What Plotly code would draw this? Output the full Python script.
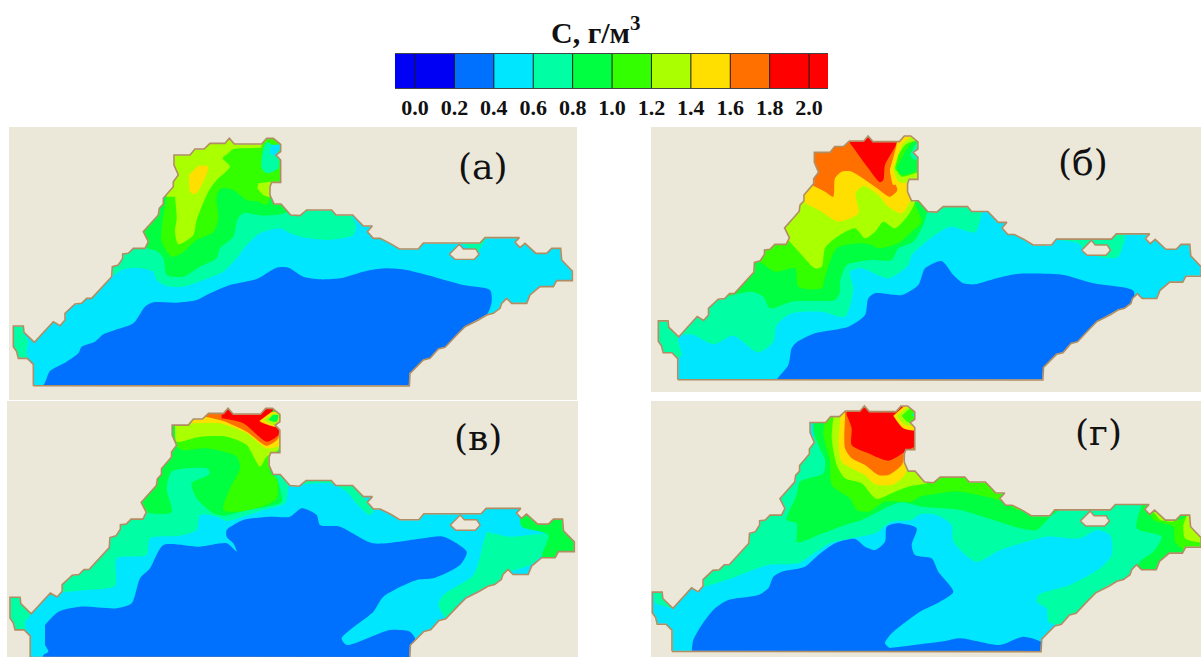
import plotly.graph_objects as go

# ---------- colour legend ----------
TICK_VALUES = [0.0, 0.2, 0.4, 0.6, 0.8, 1.0, 1.2, 1.4, 1.6, 1.8, 2.0]
TICK_LABELS = ["0.0", "0.2", "0.4", "0.6", "0.8", "1.0", "1.2", "1.4", "1.6", "1.8", "2.0"]
BAR_EDGES = [-0.1015, 0.0, 0.2, 0.4, 0.6, 0.8, 1.0, 1.2, 1.4, 1.6, 1.8, 2.0, 2.096]
BAR_COLORS = ["#0000f5", "#0000f5", "#0070ff", "#00e6ff", "#00ffa5", "#00ff40",
              "#33ff00", "#aaff00", "#ffdf00", "#ff7000", "#ff0000", "#ff0000"]
# colour of the class starting at each concentration
C02, C04, C06, C08, C10, C12, C14, C16, C18 = BAR_COLORS[2:11]

# ---------- coast outline, map units of panel (а) ----------
OUTLINE = [(100,782),(100,718),(82,700),(55,700),(50,680),(40,665),(40,603),(70,603),(72,622),(103,652),
 (160,590),(180,602),(195,585),(195,565),(225,537),(245,535),(260,520),(275,520),(335,455),(337,425),
 (355,420),(368,400),(368,387),(385,385),(400,370),(435,370),(445,350),(430,320),(475,270),(478,250),
 (490,237),(490,220),(520,185),(520,170),(535,150),(522,120),(522,90),(570,90),(585,72),(612,72),
 (630,55),(675,55),(688,40),(703,57),(785,57),(800,40),(820,40),(842,58),(842,80),(828,90),(842,105),
 (842,172),(815,172),(810,185),(810,210),(822,237),(843,237),(872,270),(900,272),(920,255),(995,255),
 (1008,270),(1058,270),(1090,303),(1117,303),(1102,320),(1120,340),(1140,340),(1170,355),(1198,372),
 (1255,372),(1270,354),(1440,354),(1455,338),(1558,338),(1545,352),(1560,368),(1575,355),(1608,385),
 (1640,385),(1655,370),(1682,370),(1685,405),(1717,438),(1717,467),(1670,467),(1660,485),(1620,485),
 (1590,510),(1580,535),(1535,535),(1520,520),(1505,535),(1500,550),(1480,565),(1460,570),(1435,585),
 (1415,595),(1395,605),(1370,630),(1335,667),(1315,672),(1290,700),(1270,705),(1230,745),(1228,783),
 (100,782)]
ISLAND = [(1348,388),(1378,358),(1390,372),(1427,372),(1437,388),(1423,403),(1365,403),(1348,388)]

# ---------- panel (а) ----------
A_BLUE = [(100,800),(100,782),(130,780),(150,738),(200,710),(235,685),(245,665),(285,650),(310,628),(345,615),
 (400,595),(435,545),(460,532),(530,533),(590,525),(630,505),(690,480),(770,462),(830,428),(865,428),
 (910,455),(960,463),(1020,460),(1090,440),(1155,430),(1220,435),(1310,458),(1390,480),(1470,495),
 (1475,530),(1460,570),(1300,700),(1228,800)]
A_TEAL = [(320,440),(330,455),(372,432),(420,430),(460,440),(470,465),(500,483),(550,485),(610,465),(670,440),
 (710,400),(740,360),(780,325),(840,310),(870,325),(910,337),(980,345),(1060,330),(1067,300),(1055,270),
 (1055,200),(320,200)]
A_TAB = [(30,590),(75,590),(72,625),(85,650),(80,675),(80,700),(40,710)]
A_TEAL2 = [(1380,350),(1440,350),(1460,335),(1445,365),(1430,385),(1410,370),(1380,355)]
A_G08 = [(420,330),(440,368),(470,378),(490,400),(500,450),(550,455),(600,425),(650,400),(660,370),(700,335),
 (712,285),(730,265),(790,272),(860,262),(900,200),(900,20),(400,20),(400,200)]
A_G10 = [(500,215),(485,310),(485,350),(515,395),(545,385),(590,345),(640,322),(655,280),(650,215),(665,190),
 (700,195),(740,225),(775,230),(800,240),(815,200),(850,150),(850,20),(500,20)]
A_G12 = [(525,215),(530,280),(525,320),(535,358),(580,330),(590,285),(625,200),(650,165),(690,125),(668,100),
 (685,85),(700,72),(790,65),(795,40),(500,20),(500,215)]
A_Y14 = [(567,150),(570,200),(585,208),(605,180),(625,125),(595,122)]
A_L2 = [(775,175),(825,172),(810,215),(790,210),(772,190)]
A_G08B = [(790,50),(770,100),(762,130),(790,160),(845,150),(845,50)]
A_T06B = [(800,50),(790,70),(785,130),(800,145),(835,130),(835,90),(820,60)]
A_C04B = [(815,60),(845,60),(825,92),(808,85)]

# ---------- panel (б) ----------
B_BLUE = [(395,780),(395,765),(430,720),(440,670),(455,652),(510,625),(610,605),(660,570),(670,520),(690,505),
 (770,510),(820,480),(840,430),(890,408),(925,450),(955,475),(990,478),(1055,460),(1115,447),(1255,450),
 (1345,475),(1465,497),(1465,530),(1300,700),(1210,780)]
B_TEAL = [(112,690),(100,635),(140,628),(205,658),(265,632),(340,682),(385,650),(395,600),(440,565),(530,560),
 (600,575),(625,490),(615,440),(650,430),(730,460),(790,420),(800,390),(850,345),(915,305),(990,322),
 (1010,265),(1010,200),(0,200),(0,700),(100,700)]
B_TEAL2 = [(1240,345),(1300,355),(1325,385),(1400,400),(1420,395),(1440,330),(1420,320),(1240,340)]
B_G08 = [(245,515),(320,500),(355,515),(375,550),(440,530),(520,528),(570,525),(585,500),(585,470),(605,420),
 (640,410),(680,405),(740,405),(760,370),(805,350),(835,300),(850,250),(860,220),(850,20),(200,20),(200,450)]
B_G10 = [(345,410),(390,440),(450,430),(460,485),(530,490),(540,455),(575,370),(640,355),(680,360),(700,370),
 (760,355),(800,320),(830,290),(810,230),(840,230),(840,20),(200,20),(300,410)]
B_G12 = [(425,340),(470,390),(510,430),(530,425),(540,370),(570,340),(630,310),(660,340),(690,320),(715,290),
 (750,310),(790,270),(810,230),(800,200),(800,20),(300,20),(400,340)]
B_Y14 = [(480,235),(530,260),(580,290),(640,265),(632,205),(655,183),(700,210),(730,245),(770,265),(800,215),
 (800,20),(480,20)]
B_O16 = [(500,180),(540,200),(565,215),(570,160),(590,140),(620,140),(690,185),(735,215),(757,195),(735,140),
 (755,60),(700,20),(500,20)]
B_R18 = [(615,55),(630,75),(670,130),(705,172),(715,165),(720,120),(755,55),(755,20),(610,20)]
B_H14 = [(735,135),(745,180),(765,170),(810,165),(830,50),(790,30),(770,50),(755,60)]
B_H12 = [(745,130),(760,170),(830,165),(830,50),(795,38),(770,60)]
B_H10 = [(750,130),(770,155),(810,145),(825,140),(830,50),(800,50),(780,60),(760,90)]
B_H08 = [(755,130),(770,150),(810,140),(825,130),(825,50),(805,50),(780,80)]
B_H06 = [(795,90),(810,105),(830,90),(828,50),(810,60)]

# ---------- panel (в) ----------
V_BLUE = [(135,690),(175,650),(240,635),(350,640),(395,625),(420,550),(450,520),(490,450),(600,455),(680,445),
 (710,470),(700,445),(680,425),(680,405),(730,375),(810,365),(870,365),(905,340),(950,360),(960,390),
 (1020,395),(1120,445),(1270,430),(1330,425),(1400,470),(1380,510),(1300,550),(1250,555),(1150,605),
 (1120,650),(1025,730),(1040,750),(1170,705),(1230,710),(1245,730),(1240,800),(130,800),(130,780),(145,770),(135,750)]
V_TEAL = [(160,600),(190,592),(260,585),(345,572),(350,490),(440,480),(450,430),(540,422),(590,405),(600,360),
 (650,365),(680,378),(720,368),(790,345),(855,325),(865,270),(860,200),(160,200)]
V_TAB = [(30,600),(60,600),(90,660),(75,680),(75,710),(20,710)]
V_TEAL2 = [(870,275),(910,258),(995,258),(1060,272),(1120,350),(1108,360),(1065,320),(1040,290),(990,265),(910,268)]
V_TEAL3 = [(1460,410),(1530,425),(1650,420),(1620,485),(1590,510),(1520,535),(1500,560),(1390,610),(1340,670),
 (1315,630),(1330,600),(1420,540),(1450,440)]
V_G08E = [(1560,370),(1565,395),(1645,420),(1625,490),(1740,490),(1740,350),(1560,350)]
V_G08 = [(420,320),(440,352),(515,352),(500,280),(515,230),(560,220),(625,222),(628,238),(575,265),(590,310),
 (640,355),(675,362),(740,345),(800,335),(845,320),(830,250),(815,232),(850,200),(850,20),(400,20)]
V_G10 = [(525,150),(545,165),(620,160),(710,185),(720,220),(690,280),(670,345),(720,350),(800,330),(830,310),
 (830,250),(810,235),(815,170),(820,120),(525,120)]
V_G12 = [(525,100),(530,140),(600,125),(680,125),(740,150),(780,215),(800,185),(835,165),(835,130),(700,70),(525,80)]
V_Y14 = [(570,85),(660,85),(740,115),(800,160),(840,150),(840,120),(700,55),(620,60),(570,80)]
V_O16 = [(615,65),(670,78),(740,110),(800,152),(835,130),(835,60),(640,50),(615,60)]
V_R18 = [(665,70),(730,85),(800,140),(835,120),(835,100),(780,80),(810,60),(820,40),(700,30),(665,60)]
V_H14 = [(778,78),(830,95),(845,55),(815,50)]
V_H12 = [(790,75),(825,90),(840,60),(820,55)]
V_H08 = [(805,75),(830,80),(835,60),(818,60)]

# ---------- panel (г) ----------
G_BLUE = [(140,770),(145,735),(170,690),(210,640),(250,615),(340,600),(370,580),(385,545),(410,530),(480,515),
 (520,480),(570,445),(630,432),(660,455),(690,465),(720,440),(725,395),(760,385),(815,400),(800,450),
 (810,480),(860,490),(880,530),(925,590),(885,620),(825,650),(740,715),(720,745),(735,762),(740,790),(140,790)]
G_BLUE2 = [(725,760),(900,738),(945,730),(1065,750),(1135,725),(1195,745),(1205,790),(725,790)]
G_TEAL = [(180,575),(260,550),(310,530),(370,510),(460,505),(500,480),(555,445),(620,430),(690,415),(740,380),
 (800,375),(825,358),(875,360),(920,390),(925,440),(995,500),(1065,465),(1145,440),(1205,425),(1305,430),
 (1355,405),(1395,420),(1400,480),(1365,520),(1275,570),(1180,600),(1175,620),(1205,640),(1210,680),
 (1245,690),(1300,660),(1365,590),(1600,500),(1800,400),(1800,200),(100,200),(100,575)]
G_TAB = [(25,590),(60,590),(60,615),(85,640),(30,625)]
G_G08 = [(505,80),(505,110),(520,150),(540,195),(535,235),(465,260),(455,300),(425,375),(455,385),(457,442),
 (520,420),(600,390),(650,375),(730,335),(770,322),(830,335),(945,345),(1045,375),(1125,400),(1175,405),
 (1215,365),(1240,345),(1240,200),(850,100),(850,20),(505,20)]
G_G10 = [(540,70),(535,120),(555,200),(560,270),(615,310),(635,345),(670,350),(720,320),(800,320),(825,305),
 (895,293),(945,290),(1025,305),(1075,320),(1125,345),(1125,200),(540,20)]
G_G12 = [(565,70),(560,130),(575,210),(600,250),(650,265),(680,300),(695,312),(750,290),(790,275),(830,268),
 (845,265),(845,20),(580,20)]
G_Y14 = [(585,80),(580,150),(590,200),(630,225),(660,240),(690,268),(740,270),(780,240),(790,190),(830,165),(830,20),(590,20)]
G_O16 = [(600,70),(600,160),(620,190),(660,210),(700,240),(730,240),(770,210),(785,170),(820,165),(830,20),(600,20)]
G_R18 = [(605,60),(620,100),(620,150),(670,175),(730,197),(780,170),(820,145),(830,20),(605,20)]
G_H14 = [(745,62),(775,100),(815,105),(825,50),(785,30),(770,40)]
G_H12 = [(755,62),(780,90),(810,90),(825,50),(790,35)]
G_H10 = [(770,62),(790,82),(810,75),(820,50),(795,40)]
G_H06 = [(800,60),(815,70),(825,55),(810,50)]
G_E08 = [(1490,330),(1475,400),(1550,425),(1525,470),(1490,495),(1475,520),(1545,525),(1585,480),(1655,470),
 (1685,420),(1685,350),(1555,320)]
G_E10 = [(1515,350),(1525,375),(1585,395),(1590,440),(1625,470),(1675,470),(1685,350),(1635,360),(1605,375)]
G_E12 = [(1615,390),(1620,430),(1675,440),(1675,360),(1625,360)]
G_E12B = [(1525,350),(1545,345),(1585,380),(1545,375)]
G_E14 = [(1640,360),(1660,360),(1660,385),(1650,380)]

PANEL_A = [(C02,A_BLUE),(C06,A_TEAL),(C06,A_TAB),(C06,A_TEAL2),(C08,A_G08),(C10,A_G10),(C12,A_G12),(C14,A_Y14),
           (C12,A_L2),(C10,A_G08B),(C06,A_T06B),(C04,A_C04B)]
PANEL_B = [(C02,B_BLUE),(C06,B_TEAL),(C06,B_TEAL2),(C08,B_G08),(C10,B_G10),(C12,B_G12),(C14,B_Y14),(C16,B_O16),
           (C18,B_R18),(C14,B_H14),(C12,B_H12),(C10,B_H10),(C08,B_H08),(C06,B_H06)]
PANEL_V = [(C02,V_BLUE),(C06,V_TEAL),(C06,V_TAB),(C06,V_TEAL2),(C06,V_TEAL3),(C08,V_G08E),(C08,V_G08),(C10,V_G10),
           (C12,V_G12),(C14,V_Y14),(C16,V_O16),(C18,V_R18),(C14,V_H14),(C12,V_H12),(C08,V_H08)]
PANEL_G = [(C02,G_BLUE),(C02,G_BLUE2),(C06,G_TEAL),(C06,G_TAB),(C08,G_G08),(C10,G_G10),(C12,G_G12),(C14,G_Y14),
           (C16,G_O16),(C18,G_R18),(C14,G_H14),(C12,G_H12),(C10,G_H10),(C06,G_H06),(C08,G_E08),(C10,G_E10),
           (C12,G_E12),(C12,G_E12B),(C14,G_E14)]

W, H = 1201, 657
BEIGE = "#ebe7d9"
COAST = "#b08d62"
CYAN = C04
PANEL_LABEL_FONT = dict(family="DejaVu Serif", size=36, color="#111111")
# rect = page box; origin = page point of map unit (0, 0); outline: x0, sx, y0, sy relative to panel (а)
PANELS = [
    dict(layers=PANEL_A, rect=(9, 127, 577, 400), origin=(0, 125), fit=(40, 1.0, 40, 1.0),
         label="(а)", label_at=(483, 167)),
    dict(layers=PANEL_B, rect=(651, 127, 1201, 392), origin=(645, 125), fit=(40, 0.971, 33, 0.985),
         label="(б)", label_at=(1083, 162)),
    dict(layers=PANEL_V, rect=(7, 401, 578, 657), origin=(0, 395), fit=(30, 1.0095, 40, 1.007),
         label="(в)", label_at=(478, 437)),
    dict(layers=PANEL_G, rect=(651, 401, 1201, 657), origin=(645, 395), fit=(22, 0.9816, 33, 0.992),
         label="(г)", label_at=(1098, 432)),
]

fig = go.Figure()
layout = dict(width=W, height=H, margin=dict(l=0, r=0, t=0, b=0), paper_bgcolor="white", plot_bgcolor=BEIGE,
              showlegend=False, annotations=[])


def unzip(points):
    return [p[0] for p in points], [p[1] for p in points]


for i, p in enumerate(PANELS, start=1):
    suffix = "" if i == 1 else str(i)
    xa, ya = f"x{suffix}", f"y{suffix}"
    l, t, r, b = p["rect"]
    ox, oy = p["origin"]
    layout[f"xaxis{suffix}"] = dict(domain=[l / W, r / W], range=[(l - ox) * 3, (r - ox) * 3], visible=False,
                                    anchor=ya, fixedrange=True)
    layout[f"yaxis{suffix}"] = dict(domain=[1 - b / H, 1 - t / H], range=[(b - oy) * 3, (t - oy) * 3], visible=False,
                                    anchor=xa, fixedrange=True)
    # water base
    fig.add_trace(go.Scatter(x=[-200, 2200, 2200, -200], y=[-200, -200, 1200, 1200], fill="toself", fillcolor=CYAN,
                             mode="lines", line=dict(width=0), hoverinfo="skip", xaxis=xa, yaxis=ya))
    for color, poly in p["layers"]:
        xs, ys = unzip(poly)
        fig.add_trace(go.Scatter(x=xs, y=ys, fill="toself", fillcolor=color, mode="lines",
                                 line=dict(width=0, shape="spline", smoothing=0.7), hoverinfo="skip", xaxis=xa, yaxis=ya))
    # land mask, coast and island
    fx, sx, fy, sy = p["fit"]
    cx = [fx + (x - 40) * sx for x, _ in OUTLINE]
    cy = [fy + (y - 40) * sy for _, y in OUTLINE]
    mx = [-200, 2200, 2200, -200, -200] + cx + [-200]
    my = [1200, 1200, -200, -200, 1200] + cy + [1200]
    fig.add_trace(go.Scatter(x=mx, y=my, fill="toself", fillcolor=BEIGE, mode="lines",
                             line=dict(width=1, color=BEIGE), hoverinfo="skip", xaxis=xa, yaxis=ya))
    fig.add_trace(go.Scatter(x=cx, y=cy, mode="lines", line=dict(width=1.6, color=COAST), hoverinfo="skip",
                             xaxis=xa, yaxis=ya))
    ix = [fx + (x - 40) * sx for x, _ in ISLAND]
    iy = [fy + (y - 40) * sy for _, y in ISLAND]
    fig.add_trace(go.Scatter(x=ix, y=iy, fill="toself", fillcolor=BEIGE, mode="lines",
                             line=dict(width=1.4, color=COAST), hoverinfo="skip", xaxis=xa, yaxis=ya))
    layout["annotations"].append(dict(text=p["label"], xref="paper", yref="paper", x=p["label_at"][0] / W,
                                      y=1 - p["label_at"][1] / H, showarrow=False, font=PANEL_LABEL_FONT,
                                      xanchor="center", yanchor="middle"))

# colour legend
n = len(BAR_COLORS)
scale = []
for k, c in enumerate(BAR_COLORS):
    scale += [[k / n, c], [(k + 1) / n, c]]
fig.add_trace(go.Heatmap(x=BAR_EDGES, y=[0, 1], z=[[k + 0.5 for k in range(n)]], zmin=0, zmax=n, colorscale=scale,
                         showscale=False, hoverinfo="skip", xaxis="x5", yaxis="y5"))
sep_x, sep_y = [], []
for v in BAR_EDGES[1:-1]:
    sep_x += [v, v, None]
    sep_y += [0, 1, None]
fig.add_trace(go.Scatter(x=sep_x, y=sep_y, mode="lines", line=dict(width=1, color="#1a1a1a"), hoverinfo="skip",
                         xaxis="x5", yaxis="y5"))
layout["xaxis5"] = dict(domain=[395 / W, 828 / W], range=[BAR_EDGES[0], BAR_EDGES[-1]], anchor="y5",
                        tickmode="array", tickvals=TICK_VALUES, ticktext=TICK_LABELS, ticks="", showgrid=False,
                        zeroline=False, showline=True, mirror=True, linecolor="#444444", linewidth=1,
                        tickfont=dict(family="Liberation Serif", size=22, color="#111111", weight="bold"), fixedrange=True)
layout["yaxis5"] = dict(domain=[1 - 88 / H, 1 - 54 / H], range=[0, 1], anchor="x5", visible=False, fixedrange=True)
layout["annotations"].append(dict(text="<b>C, г/м<sup>3</sup></b>", xref="paper", yref="paper", x=596 / W, y=1 - 30 / H,
                                  showarrow=False, xanchor="center", yanchor="middle",
                                  font=dict(family="Liberation Serif", size=30, color="#111111")))
fig.update_layout(**layout)
fig.write_html("out.html", config={"displayModeBar": False},
               post_script="document.body.style.margin='0';document.body.style.background='white';")
